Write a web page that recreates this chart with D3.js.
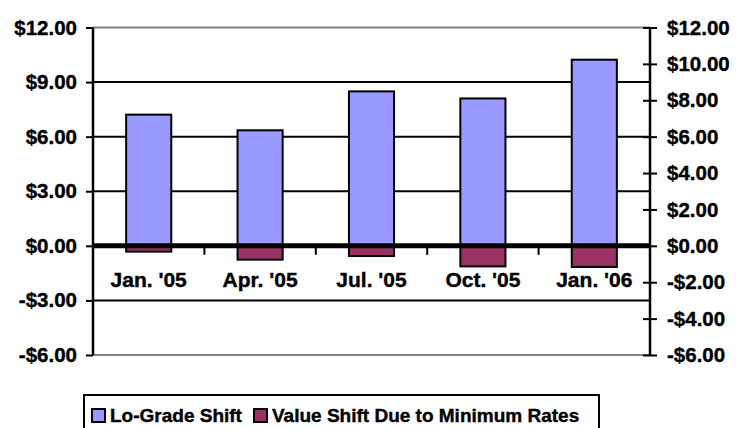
<!DOCTYPE html>
<html>
<head>
<meta charset="utf-8">
<script src="https://cdn.jsdelivr.net/npm/d3@7"></script>
<style>
  body { margin: 0; background: #fff; }
  text { font-family: Arial, "Liberation Sans", sans-serif; font-weight: bold; fill: #000; stroke: #000; stroke-width: 0.4px; }
</style>
</head>
<body>
<div id="chart"></div>
<script>
// data
const categories = ["Jan. '05", "Apr. '05", "Jul. '05", "Oct. '05", "Jan. '06"];
const loGrade = [7.21, 6.35, 8.49, 8.1, 10.23];
const valueShift = [-0.32, -0.76, -0.56, -1.13, -1.16];
const leftTicks = [12, 9, 6, 3, 0, -3, -6];
const rightTicks = [12, 10, 8, 6, 4, 2, 0, -2, -4, -6];
const seriesNames = ["Lo-Grade Shift", "Value Shift Due to Minimum Rates"];
const colors = ["#9999FF", "#993366"];

const width = 751, height = 428;
const svg = d3.select("#chart").append("svg")
  .attr("width", width)
  .attr("height", height);

const plotLeft = 93, plotRight = 650, plotTop = 27.5, plotBottom = 355;

const x = d3.scaleBand().domain(categories).range([plotLeft, plotRight]).padding(0);
const y = d3.scaleLinear().domain([-6, 12]).range([plotBottom, plotTop]);
const y2 = d3.scaleLinear().domain([-6, 12]).range([plotBottom, plotTop]);
const fmt = d => (d < 0 ? "-$" : "$") + Math.abs(d).toFixed(2);

// gridlines
svg.append("g").selectAll("line")
  .data(leftTicks.filter(d => d != 0))
  .enter().append("line")
    .attr("x1", plotLeft).attr("x2", plotRight)
    .attr("y1", d => y(d)).attr("y2", d => y(d))
    .attr("stroke", d => (d == 12 || d == -6) ? "#808080" : "#000")
    .attr("stroke-width", 2);

// bars
const bw = x.bandwidth() * 0.405;
function drawBars(vals, color) {
  svg.append("g").selectAll("rect")
    .data(vals)
    .enter().append("rect")
      .attr("x", (d, i) => x(categories[i]) + x.bandwidth() / 2 - bw / 2)
      .attr("y", d => y(Math.max(0, d)))
      .attr("width", bw)
      .attr("height", d => Math.abs(y(d) - y(0)))
      .attr("fill", color)
      .attr("stroke", "#000")
      .attr("stroke-width", 2);
}
drawBars(loGrade, colors[0]);
drawBars(valueShift, colors[1]);

// zero line with category ticks
svg.append("line")
  .attr("x1", plotLeft).attr("x2", plotRight)
  .attr("y1", y(0)).attr("y2", y(0))
  .attr("stroke", "#000").attr("stroke-width", 5);

const xAxis = d3.axisBottom(x).tickSize(0).tickPadding(0);
const gx = svg.append("g").attr("transform", "translate(0," + (y(0) + 41) + ")").call(xAxis);
gx.select(".domain").remove();
gx.selectAll("text").attr("font-size", 21).attr("dy", 0).attr("y", 0);

svg.append("g").selectAll("line")
  .data(categories.slice(1))
  .enter().append("line")
    .attr("x1", d => x(d)).attr("x2", d => x(d))
    .attr("y1", y(0)).attr("y2", y(0) + 9)
    .attr("stroke", "#000").attr("stroke-width", 2);

// left axis
const gl = svg.append("g").attr("transform", "translate(" + plotLeft + ",0)")
  .call(d3.axisLeft(y).tickValues(leftTicks).tickFormat(fmt).tickSize(7).tickPadding(9));
gl.select(".domain").attr("stroke-width", 2.5).attr("d", "M0," + plotTop + "V" + plotBottom);
gl.selectAll(".tick line").attr("stroke-width", 2);
gl.selectAll("text").attr("font-size", 20.5);

// right axis
const gr = svg.append("g").attr("transform", "translate(" + plotRight + ",0)")
  .call(d3.axisRight(y2).tickValues(rightTicks).tickFormat(fmt).tickSize(7).tickPadding(10));
gr.select(".domain").attr("stroke-width", 2.5).attr("d", "M0," + plotTop + "V" + plotBottom);
gr.selectAll(".tick line").attr("x1", -7).attr("stroke-width", 2);
gr.selectAll("text").attr("font-size", 20.5);

// legend
const lg = svg.append("g");
lg.append("rect")
  .attr("x", 84).attr("y", 395).attr("width", 515).attr("height", 40)
  .attr("fill", "#fff").attr("stroke", "#000").attr("stroke-width", 2);
const legendX = [92, 254];
seriesNames.forEach((name, i) => {
  lg.append("rect")
    .attr("x", legendX[i]).attr("y", 409).attr("width", 13).attr("height", 13)
    .attr("fill", colors[i]).attr("stroke", "#000").attr("stroke-width", 2);
  lg.append("text")
    .attr("x", legendX[i] + 18).attr("y", 422)
    .attr("font-size", 19)
    .text(name);
});
</script>
</body>
</html>
